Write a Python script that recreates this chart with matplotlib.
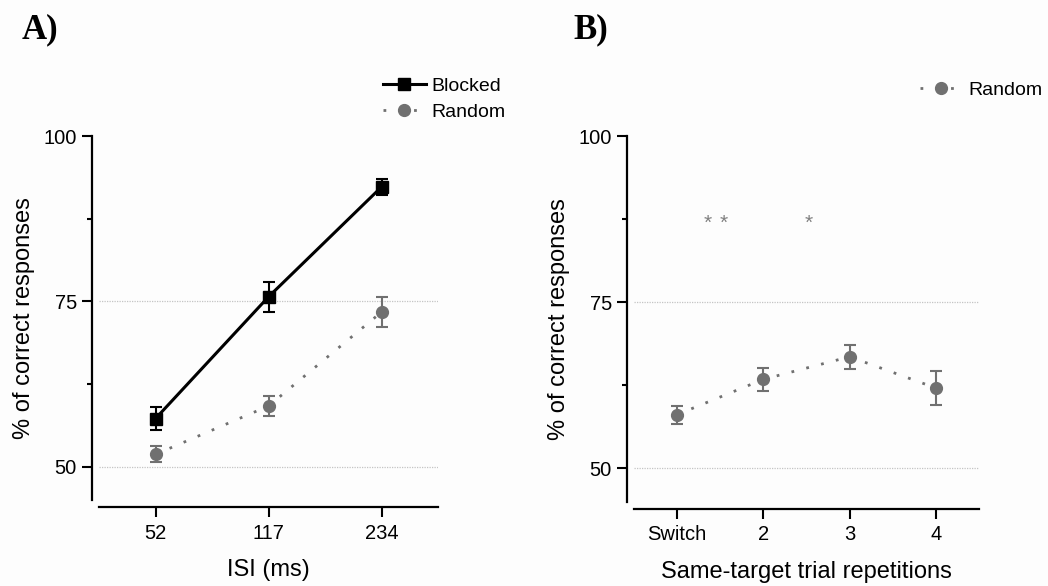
import numpy as np
import matplotlib.pyplot as plt
from matplotlib.ticker import MultipleLocator

plt.rcParams['font.family'] = ['Liberation Sans', 'DejaVu Sans']

# Panel A data
isi_labels = ['52', '117', '234']
blocked_mean = [57.3, 75.7, 92.3]
blocked_err = [1.7, 2.3, 1.2]
random_a_mean = [51.9, 59.2, 73.4]
random_a_err = [1.2, 1.5, 2.2]

# Panel B data
rep_labels = ['Switch', '2', '3', '4']
random_b_mean = [58.1, 63.4, 66.8, 62.1]
random_b_err = [1.35, 1.7, 1.8, 2.5]
stars_x = [0.35, 0.54, 1.53]
stars_y = 86.8

GRAY = '#707070'
W, H = 1048, 586

fig = plt.figure(figsize=(W / 100, H / 100), dpi=100)
fig.patch.set_facecolor('#fdfdfd')


def style_axes(ax, nx, xlabels, xlabel):
    ax.set_ylim(45, 100)
    ax.set_xlim(-0.5, nx - 0.5)
    ax.set_xticks(range(nx))
    ax.set_xticklabels(xlabels)
    ax.set_yticks([50, 75, 100])
    ax.yaxis.set_minor_locator(MultipleLocator(12.5))
    for s in ['top', 'right']:
        ax.spines[s].set_visible(False)
    ax.spines['left'].set_position(('outward', 5))
    ax.spines['bottom'].set_position(('outward', 5))
    ax.spines['left'].set_linewidth(1.6)
    ax.spines['bottom'].set_linewidth(1.6)
    ax.tick_params(axis='both', which='major', labelsize=14.5, length=7, width=1.5, pad=4)
    ax.tick_params(axis='y', which='minor', length=3.5, width=1.5)
    ax.tick_params(axis='x', which='major', pad=5)
    for yv in [50, 75]:
        ax.axhline(yv, color='#c4c4c4', lw=0.9, ls=(0, (1, 1)), zorder=0)
    ax.set_ylabel('% of correct responses', fontsize=17, labelpad=6)
    ax.set_xlabel(xlabel, fontsize=17, labelpad=12)
    ax.set_facecolor('none')


# ---- Panel A ----
axA = fig.add_axes([99 / W, 1 - 500 / H, 339 / W, 364 / H])
x = np.arange(len(isi_labels))
axA.errorbar(x, blocked_mean, yerr=blocked_err, fmt='none', ecolor='black',
             elinewidth=1.5, capsize=4, capthick=1.5, zorder=3)
axA.plot(x, blocked_mean, color='black', lw=2.2, marker='s', ms=8, zorder=4, label='Blocked')
axA.errorbar(x, random_a_mean, yerr=random_a_err, fmt='none', ecolor=GRAY,
             elinewidth=1.5, capsize=4, capthick=1.5, zorder=3)
axA.plot(x, random_a_mean, color=GRAY, lw=2, ls=(0, (1, 4.5)), marker='o', ms=8.5,
         zorder=4, label='Random')
style_axes(axA, len(isi_labels), isi_labels, 'ISI (ms)')
axA.legend(loc='upper left', bbox_to_anchor=(383 / W, 1 - 77 / H), bbox_transform=fig.transFigure,
           frameon=False, fontsize=14, handlelength=2.2, handletextpad=0.3,
           labelspacing=0.45, borderpad=0, borderaxespad=0)

# ---- Panel B ----
axB = fig.add_axes([634 / W, 1 - 501.7 / H, 345 / W, 365.7 / H])
xb = np.arange(len(rep_labels))
axB.errorbar(xb, random_b_mean, yerr=random_b_err, fmt='none', ecolor=GRAY,
             elinewidth=1.5, capsize=4, capthick=1.5, zorder=3)
axB.plot(xb, random_b_mean, color=GRAY, lw=2, ls=(0, (1, 4.5)), marker='o', ms=8.5,
         zorder=4, label='Random')
for sx in stars_x:
    axB.text(sx, stars_y, '*', ha='center', va='center', color='#808080', fontsize=15)
style_axes(axB, len(rep_labels), rep_labels, 'Same-target trial repetitions')
axB.legend(loc='upper left', bbox_to_anchor=(920 / W, 1 - 81 / H), bbox_transform=fig.transFigure,
           frameon=False, fontsize=14, handlelength=2.2, handletextpad=0.3,
           borderpad=0, borderaxespad=0)

# panel letters
fig.text(22 / W, 1 - 38 / H, 'A)', fontsize=25, fontweight='bold',
         family=['Liberation Serif', 'DejaVu Serif'], ha='left', va='baseline')
fig.text(573 / W, 1 - 38 / H, 'B)', fontsize=25, fontweight='bold',
         family=['Liberation Serif', 'DejaVu Serif'], ha='left', va='baseline')

fig.savefig('out.png', dpi=100, facecolor=fig.get_facecolor())
